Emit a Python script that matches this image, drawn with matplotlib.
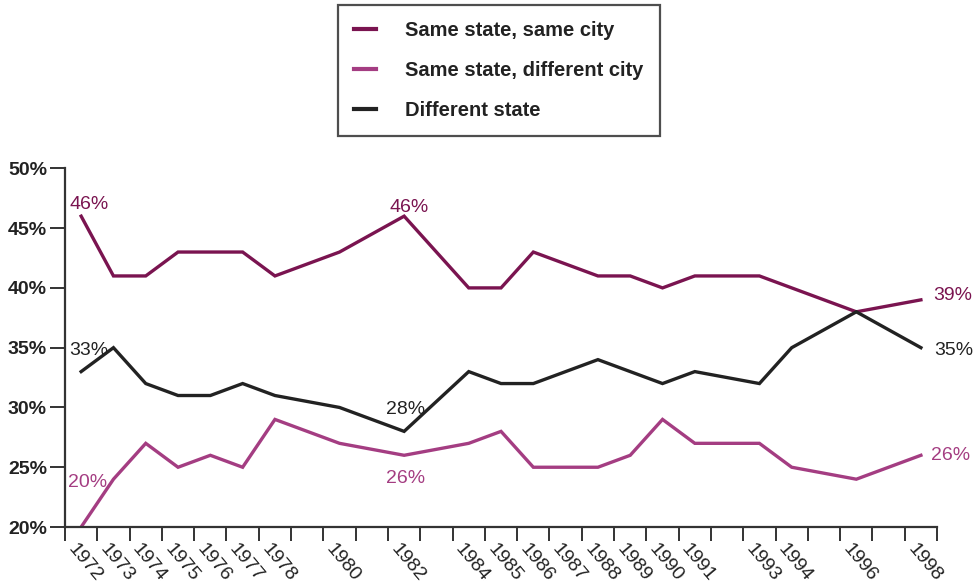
import numpy as np
import matplotlib.pyplot as plt
from matplotlib.ticker import FixedLocator, FuncFormatter

plt.rcParams['font.family'] = ['Liberation Sans', 'DejaVu Sans']

years = [1972, 1973, 1974, 1975, 1976, 1977, 1978, 1980, 1982, 1984, 1985,
         1986, 1987, 1988, 1989, 1990, 1991, 1993, 1994, 1996, 1998]
same_city = [46, 41, 41, 43, 43, 43, 41, 43, 46, 40, 40,
             43, 42, 41, 41, 40, 41, 41, 40, 38, 39]
diff_city = [20, 24, 27, 25, 26, 25, 29, 27, 26, 27, 28,
             25, 25, 25, 26, 29, 27, 27, 25, 24, 26]
diff_state = [33, 35, 32, 31, 31, 32, 31, 30, 28, 33, 32,
              32, 33, 34, 33, 32, 33, 32, 35, 38, 35]
series_names = ['Same state, same city', 'Same state, different city', 'Different state']

c_dark = '#7a1450'
c_light = '#a43d82'
c_black = '#222222'

fig = plt.figure(figsize=(9.76, 5.88), dpi=100)
ax = fig.add_axes([0.0666, 0.1037, 0.8935, 0.610])

l1, = ax.plot(years, same_city, color=c_dark, lw=2.4, solid_joinstyle='miter')
l2, = ax.plot(years, diff_city, color=c_light, lw=2.4, solid_joinstyle='miter')
l3, = ax.plot(years, diff_state, color=c_black, lw=2.4, solid_joinstyle='miter')

ax.set_xlim(1971.5, 1998.5)
ax.set_ylim(20, 50)

for s in ['top', 'right']:
    ax.spines[s].set_visible(False)
for s in ['left', 'bottom']:
    ax.spines[s].set_linewidth(1.6)
    ax.spines[s].set_color('#333333')

# ticks at year boundaries, labels under each data year
ax.xaxis.set_major_locator(FixedLocator(np.arange(1971.5, 1999, 1)))
ax.set_xticklabels([])
ax.tick_params(axis='x', length=10, width=1.4, color='#333333')
for y in years:
    ax.text(y - 0.12, 18.9, str(y), rotation=-50, rotation_mode='anchor',
            ha='left', va='top', fontsize=14, color='#222222')

ax.set_yticks(np.arange(20, 51, 5))
ax.yaxis.set_major_formatter(FuncFormatter(lambda v, p: f'{v:.0f}%'))
ax.tick_params(axis='y', length=11, width=1.4, color='#333333', labelsize=14,
               labelcolor='#222222', pad=2)
for t in ax.get_yticklabels():
    t.set_fontweight('bold')

# value annotations
notes = [
    (1972.25, 47.0, '46%', c_dark, 'center'), (1982.15, 46.7, '46%', c_dark, 'center'),
    (1998.37, 39.4, '39%', c_dark, 'left'),
    (1972.25, 34.8, '33%', c_black, 'center'), (1982.05, 29.8, '28%', c_black, 'center'),
    (1998.4, 34.75, '35%', c_black, 'left'),
    (1972.2, 23.7, '20%', c_light, 'center'), (1982.05, 24.1, '26%', c_light, 'center'),
    (1998.3, 26.0, '26%', c_light, 'left'),
]
for x, y, s, c, h in notes:
    ax.text(x, y, s, color=c, fontsize=14, ha=h, va='center')

leg = fig.legend([l1, l2, l3], series_names, loc='upper center',
                 bbox_to_anchor=(0.511, 0.992), frameon=True, fancybox=False,
                 edgecolor='#222222', handlelength=1.1, handletextpad=1.45,
                 labelspacing=1.05, borderpad=0.8, borderaxespad=0,
                 prop={'size': 14.5, 'weight': 'bold'})
leg.get_frame().set_linewidth(1.6)
for h in leg.legend_handles:
    h.set_linewidth(3)
for t in leg.get_texts():
    t.set_color('#222222')

fig.savefig('out.png', dpi=100)
